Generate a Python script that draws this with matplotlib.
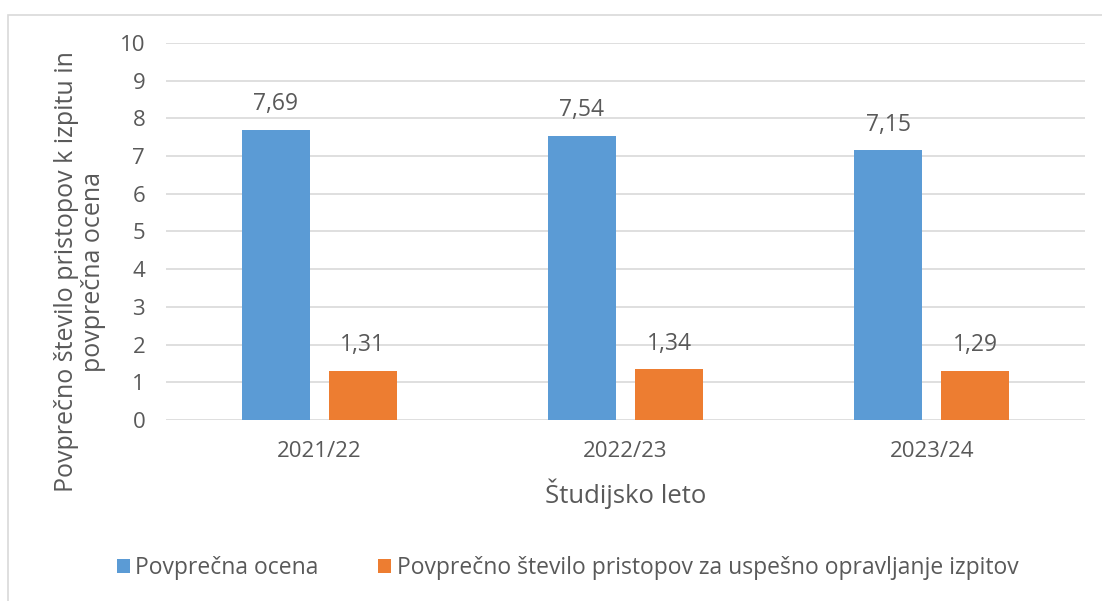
import matplotlib.pyplot as plt
from matplotlib.patches import Rectangle
import numpy as np

plt.rcParams['font.family'] = ['Open Sans', 'DejaVu Sans']

years = ["2021/22", "2022/23", "2023/24"]
ocena = [7.69, 7.54, 7.15]
pristopi = [1.31, 1.34, 1.29]
yticks = list(range(0, 11))

blue = "#5B9BD5"
orange = "#ED7D31"
txt = "#595959"

fig = plt.figure(figsize=(11.02, 6.01), dpi=100)
ax = fig.add_axes([0.1506, 0.3012, 0.834, 0.6273])

# chart frame
fig.patches.append(Rectangle((8 / 1102, -0.1), 1.2, 1 - 15 / 601 + 0.1,
                             transform=fig.transFigure, fill=False,
                             edgecolor="#D9D9D9", linewidth=1.2))

x = np.arange(len(years))
w = 0.222
b1 = ax.bar(x - 0.142, ocena, w, color=blue, label="Povprečna ocena", zorder=3)
b2 = ax.bar(x + 0.142, pristopi, w, color=orange,
            label="Povprečno število pristopov za uspešno opravljanje izpitov", zorder=3)

for bars in (b1, b2):
    for r in bars:
        v = r.get_height()
        ax.annotate(f"{v:.2f}".replace(".", ","), (r.get_x() + r.get_width() / 2, v),
                    xytext=(0, 10), textcoords="offset points", ha="center",
                    va="bottom", fontsize=16.5, color=txt)

ax.set_xlim(-0.5, 2.5)
ax.set_ylim(0, 10)
ax.set_yticks(yticks)
ax.set_xticks(x)
ax.set_xticklabels(years)
ax.tick_params(axis="both", length=0, labelsize=16, labelcolor=txt)
ax.tick_params(axis="y", pad=15)
ax.tick_params(axis="x", pad=15)
ax.grid(axis="y", color="#D9D9D9", linewidth=1.2, zorder=0)
for s in ax.spines.values():
    s.set_visible(False)

ax.set_xlabel("Študijsko leto", fontsize=18.5, color=txt, labelpad=12)
ax.set_ylabel("Povprečno število pristopov k izpitu in\npovprečna ocena",
              fontsize=18, color=txt, linespacing=1.1, va="center")
ax.yaxis.set_label_coords(-0.0936, 0.393)

fig.legend(loc="center", bbox_to_anchor=(0.515, 1 - 568 / 601), ncol=2,
           frameon=False, fontsize=16.5, labelcolor=txt, handlelength=0.55,
           handleheight=0.55, handletextpad=0.25, columnspacing=2.6)

fig.savefig("out.png", dpi=100)
